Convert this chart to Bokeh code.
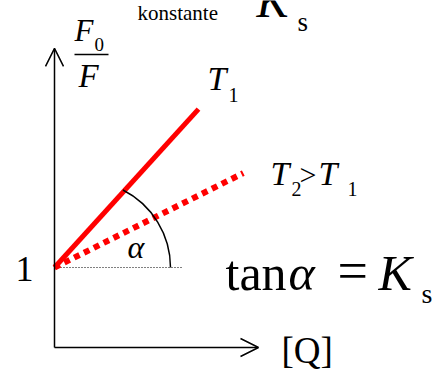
from bokeh.plotting import figure
from bokeh.models import Range1d, Arrow, OpenHead
from bokeh.core.properties import value
from bokeh.embed import file_html
from bokeh.resources import INLINE
import numpy as np

W, H = 446, 370
# canvas position of the axes origin and pixels per unit
OX, OY, S = 54, 347, 80

# Stern-Volmer lines  F0/F = 1 + Ks*[Q]  at two temperatures
temps = ["T1", "T2"]
ks_values = [1.1, 0.5]
q_max = [1.8, 2.36]
intercept = 1.0
y_tick_labels = ["1"]
x_axis_len = 2.55
y_axis_len = 3.74

FONT = "Liberation Serif"
# the svg text anchor sits about a third of an em above the baseline
BASE_SHIFT = 0.34


def px2x(px):
    return (px - OX) / S


def px2y(py):
    return (OY - py) / S


p = figure(width=W, height=H, output_backend="svg", toolbar_location=None,
           x_range=Range1d(-OX / S, (W - OX) / S),
           y_range=Range1d(-(H - OY) / S, OY / S),
           min_border=0)
p.axis.visible = False
p.xgrid.visible = False
p.ygrid.visible = False
p.outline_line_color = None
p.background_fill_color = "white"
p.border_fill_color = "white"

# axes as open-headed arrows
p.add_layout(Arrow(x_start=0, y_start=0, x_end=0, y_end=y_axis_len,
                   line_width=1.5, line_color="black",
                   end=OpenHead(size=18, line_width=1.5, line_color="black")))
p.add_layout(Arrow(x_start=0, y_start=0, x_end=x_axis_len, y_end=0,
                   line_width=1.5, line_color="black",
                   end=OpenHead(size=18, line_width=1.5, line_color="black")))

# reference level F0/F = 1
p.line([0, 1.61], [intercept, intercept], line_color="black", line_width=1.2,
       line_dash="1 2")

# T1 (solid) and T2 (dotted)
q1 = np.array([0.0, q_max[0]])
p.line(q1, intercept + ks_values[0] * q1, line_color="#ff0000", line_width=5,
       line_cap="butt")
q2 = np.array([0.0, q_max[1]])
p.line(q2, intercept + ks_values[1] * q2, line_color="#ff0000", line_width=6,
       line_dash="6 5", line_cap="butt")

# angle arc
p.arc(x=[px2x(83)], y=[intercept], radius=87, radius_units="screen",
      start_angle=0, end_angle=1.1, line_color="black", line_width=1.5)

# fraction bar of F0/F
p.segment(x0=[px2x(74)], y0=[px2y(54)], x1=[px2x(108)], y1=[px2y(54)],
          line_color="black", line_width=1.5)


def put(txt, x, y_base, size, italic=False):
    p.text(x=[px2x(x)], y=[px2y(y_base - BASE_SHIFT * size)], text=[txt],
           text_font=value(FONT), text_font_size=f"{size}px",
           text_font_style="italic" if italic else "normal",
           text_color="black", text_baseline="alphabetic", text_align="left")


# heading
put("konstante", 137, 20, 21)
put("K", 256, 16, 48, italic=True)
put("s", 297, 31, 27)

# y axis title F0/F
put("F", 74, 41, 31, italic=True)
put("0", 94, 50, 19)
put("F", 78, 87, 33, italic=True)

# curve labels
put("T", 207, 90, 34, italic=True)
put("1", 228, 101, 20)
put("T", 270, 185, 34, italic=True)
put("2", 291, 195, 20)
put(">", 299, 184, 30)
put("T", 318, 185, 34, italic=True)
put("1", 347, 195, 20)

put("\u03b1", 127, 257, 32, italic=True)
put(y_tick_labels[0], 15, 281, 36)

# tan alpha = Ks
put("tan", 225, 289, 50)
put("\u03b1", 288, 289, 50, italic=True)
put("=", 337, 289, 54)
put("K", 378, 289, 50, italic=True)
put("s", 421, 303, 28)

put("[Q]", 281, 363, 37)

open("out.html", "w").write(file_html(p, INLINE))
